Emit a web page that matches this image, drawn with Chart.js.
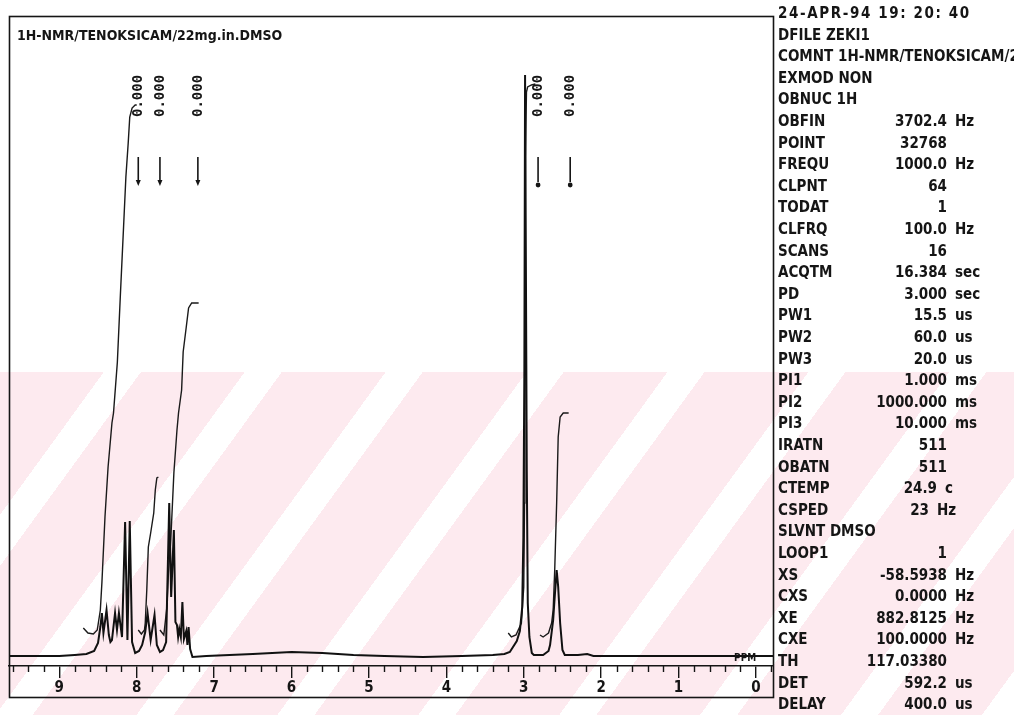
<!DOCTYPE html>
<html><head><meta charset="utf-8">
<script src="https://cdn.jsdelivr.net/npm/chart.js@4/dist/chart.umd.min.js"></script>
<style>
html,body{margin:0;padding:0;background:#fff;width:1014px;height:715px;overflow:hidden;position:relative;}
#wm{position:absolute;left:0;top:372px;width:1014px;height:343px;background:repeating-linear-gradient(126deg,#fdeaef 0px,#fdeaef 84px,#ffffff 84px,#ffffff 114px);}
#c{position:absolute;left:0;top:0;}
.t{position:absolute;font-family:'DejaVu Sans Condensed','DejaVu Sans',sans-serif;font-weight:bold;font-size:15px;color:#151515;white-space:nowrap;line-height:16px;}
</style></head><body>
<div id="wm"></div>
<canvas id="c" width="1014" height="715"></canvas>
<div id="panel"></div>
<script>
// ---- spectrum (chemical shift in ppm, intensity above baseline) ----
const spectrumPpm = [9.65, 9.30, 9.00, 8.80, 8.65, 8.55, 8.50, 8.47, 8.45, 8.43,
  8.39, 8.36, 8.34, 8.32, 8.28, 8.255, 8.23, 8.19, 8.15, 8.12,
  8.09, 8.06, 8.02, 7.97, 7.93, 7.89, 7.86, 7.82, 7.77, 7.74,
  7.70, 7.66, 7.62, 7.58, 7.555, 7.52, 7.50, 7.48, 7.465, 7.45,
  7.43, 7.41, 7.39, 7.36, 7.345, 7.33, 7.31, 7.28, 7.10, 6.80,
  6.50, 6.00, 5.60, 5.20, 4.80, 4.30, 3.80, 3.40, 3.25, 3.18,
  3.09, 3.05, 3.02, 3.005, 2.992, 2.983, 2.961, 2.948, 2.927, 2.896,
  2.87, 2.75, 2.68, 2.66, 2.62, 2.60, 2.575, 2.555, 2.53, 2.50,
  2.47, 2.30, 2.18, 2.10, 1.50, 0.50, 0.00, -0.22];
const spectrumH = [1, 1, 1, 2, 3, 6, 14, 30, 44, 24,
  47, 22, 15, 17, 44, 27, 44, 20, 135, 17,
  136, 15, 4, 6, 12, 25, 44, 17, 42, 12,
  5, 7, 15, 154, 60, 127, 35, 32, 20, 28,
  20, 55, 18, 26, 12, 30, 8, 0, 1, 2,
  3, 5, 4, 2, 1, 0, 1, 2, 3, 5,
  16, 26, 50, 120, 287, 582, 187, 54, 20, 4,
  2, 2, 6, 12, 37, 60, 87, 70, 34, 7,
  2, 2, 3, 1, 1, 1, 1, 1];

// ---- integral curves ----
const int1Ppm = [8.69, 8.63, 8.56, 8.51, 8.47, 8.45, 8.41, 8.37, 8.32, 8.30, 8.25, 8.21, 8.17, 8.14, 8.11, 8.09, 8.06, 8.02, 8.00];
const int1H   = [29, 24, 23, 27, 47, 74, 140, 190, 234, 244, 295, 364, 430, 480, 514, 540, 549, 552, 552];
const int2Ppm = [7.98, 7.94, 7.90, 7.89, 7.87, 7.85, 7.82, 7.78, 7.76, 7.74, 7.72];
const int2H   = [27, 23, 27, 34, 67, 110, 124, 144, 167, 179, 180];
const int3Ppm = [7.70, 7.65, 7.61, 7.59, 7.56, 7.52, 7.48, 7.46, 7.42, 7.40, 7.36, 7.33, 7.29, 7.20];
const int3H   = [27, 22, 50, 84, 117, 184, 227, 244, 267, 305, 330, 349, 354, 354];
const int4Ppm = [3.20, 3.16, 3.10, 3.03, 3.00, 2.99, 2.985, 2.978, 2.965, 2.95, 2.90, 2.85];
const int4H   = [24, 20, 22, 34, 70, 154, 287, 500, 565, 570, 572, 573];
const int5Ppm = [2.79, 2.75, 2.68, 2.64, 2.62, 2.60, 2.575, 2.555, 2.53, 2.49, 2.42];
const int5H   = [22, 20, 24, 34, 47, 87, 154, 220, 240, 244, 244];

// ---- integral value labels & markers ----
const intLabelPpm  = [7.98, 7.70, 7.21, 2.815, 2.40];
const intLabelText = ['0.000', '0.000', '0.000', '0.000', '0.000'];
const intMarkerDot = [false, false, false, true, true];

// ---- axis ticks ----
const tickValues = [0, 1, 2, 3, 4, 5, 6, 7, 8, 9];
const tickLabels = ['0', '1', '2', '3', '4', '5', '6', '7', '8', '9'];
const axisMin = -0.22, axisMax = 9.65, minorStep = 0.2;

// ---- acquisition parameters panel ----
const panelLabels = ['24-APR-94 19: 20: 40', 'DFILE ZEKI1', 'COMNT 1H-NMR/TENOKSICAM/22mg.in.DMSO', 'EXMOD NON', 'OBNUC 1H',
  'OBFIN', 'POINT', 'FREQU', 'CLPNT', 'TODAT', 'CLFRQ', 'SCANS', 'ACQTM', 'PD', 'PW1', 'PW2', 'PW3',
  'PI1', 'PI2', 'PI3', 'IRATN', 'OBATN', 'CTEMP', 'CSPED', 'SLVNT DMSO', 'LOOP1',
  'XS', 'CXS', 'XE', 'CXE', 'TH', 'DET', 'DELAY'];
const panelValues = ['', '', '', '', '',
  '3702.4', '32768', '1000.0', '64', '1', '100.0', '16', '16.384', '3.000', '15.5', '60.0', '20.0',
  '1.000', '1000.000', '10.000', '511', '511', '24.9', '23', '', '1',
  '-58.5938', '0.0000', '882.8125', '100.0000', '117.03380', '592.2', '400.0'];
const panelUnits = ['', '', '', '', '',
  'Hz', '', 'Hz', '', '', 'Hz', '', 'sec', 'sec', 'us', 'us', 'us',
  'ms', 'ms', 'ms', '', '', 'c', 'Hz', '', '',
  'Hz', 'Hz', 'Hz', 'Hz', '', 'us', 'us'];
const panelShift = [0,0,0,0,0, 0,0,0,0,0,0,0,0,0,0,0,0, 0,0,0,0,0,-10,-18,0,0, 0,0,0,0,0,0,0];

const title = '1H-NMR/TENOKSICAM/22mg.in.DMSO';

// build panel text
const panel = document.getElementById('panel');
function addText(txt, style) {
  const d = document.createElement('div');
  d.className = 't';
  d.textContent = txt;
  Object.assign(d.style, style);
  panel.appendChild(d);
}
panelLabels.forEach((lab, i) => {
  const top = (13 + 21.6 * i - 8) + 'px';
  const st = {left: '778px', top};
  if (i === 0) st.letterSpacing = '1.6px';
  addText(lab, st);
  if (panelValues[i]) addText(panelValues[i], {right: (1014 - 947 - panelShift[i]) + 'px', top, textAlign: 'right'});
  if (panelUnits[i]) addText(panelUnits[i], {left: (955 + panelShift[i]) + 'px', top});
});
addText(title, {left: '17px', top: '27px', fontSize: '14px'});

const pts = (xs, ys) => xs.map((v, i) => ({x: v, y: ys[i]}));
const isMajor = v => Math.abs(v - Math.round(v)) < 1e-6;

const annot = {
  id: 'annot',
  afterDraw(chart) {
    const {ctx, chartArea: a, scales: {x, y}} = chart;
    ctx.save();
    ctx.strokeStyle = '#151515';
    ctx.fillStyle = '#151515';
    // minor ticks
    ctx.lineWidth = 1.4;
    x.ticks.forEach(t => {
      if (!isMajor(t.value)) {
        const px = Math.round(x.getPixelForValue(t.value)) + 0.5;
        ctx.beginPath(); ctx.moveTo(px, a.bottom); ctx.lineTo(px, a.bottom + 6); ctx.stroke();
      }
    });
    // frame
    ctx.lineWidth = 1.6;
    ctx.strokeRect(a.left + 0.5, a.top + 0.5, a.right - a.left, x.bottom - a.top);
    // integral labels and markers
    intLabelPpm.forEach((p, i) => {
      const px = x.getPixelForValue(p);
      ctx.save();
      ctx.translate(px, y.getPixelForValue(540));
      ctx.rotate(-Math.PI / 2);
      ctx.font = "bold 14px 'DejaVu Sans Mono', monospace";
      ctx.textAlign = 'left';
      ctx.textBaseline = 'middle';
      ctx.fillText(intLabelText[i], 0, 0);
      ctx.restore();
      const y1 = y.getPixelForValue(500), y2 = y.getPixelForValue(472);
      ctx.lineWidth = 1.6;
      ctx.beginPath(); ctx.moveTo(px, y1); ctx.lineTo(px, y2 - 3); ctx.stroke();
      if (intMarkerDot[i]) {
        ctx.beginPath(); ctx.arc(px, y2, 2.4, 0, Math.PI * 2); ctx.fill();
      } else {
        ctx.beginPath(); ctx.moveTo(px - 2.5, y2 - 5); ctx.lineTo(px + 2.5, y2 - 5); ctx.lineTo(px, y2 + 1); ctx.closePath(); ctx.fill();
      }
    });
    // PPM unit label
    ctx.font = "bold 10px 'DejaVu Sans Condensed', sans-serif";
    ctx.textAlign = 'center';
    ctx.textBaseline = 'middle';
    ctx.fillText('PPM', x.getPixelForValue(0.14), y.getPixelForValue(-1));
    ctx.restore();
  }
};

const intStyle = {borderColor: '#1a1a1a', borderWidth: 1.4, pointRadius: 0, tension: 0, fill: false};

new Chart(document.getElementById('c'), {
  type: 'line',
  data: {
    datasets: [
      {label: 'spectrum', data: pts(spectrumPpm, spectrumH), borderColor: '#111', borderWidth: 2, pointRadius: 0, tension: 0, fill: false},
      Object.assign({label: 'int1', data: pts(int1Ppm, int1H)}, intStyle),
      Object.assign({label: 'int2', data: pts(int2Ppm, int2H)}, intStyle),
      Object.assign({label: 'int3', data: pts(int3Ppm, int3H)}, intStyle),
      Object.assign({label: 'int4', data: pts(int4Ppm, int4H)}, intStyle),
      Object.assign({label: 'int5', data: pts(int5Ppm, int5H)}, intStyle)
    ]
  },
  options: {
    responsive: false,
    animation: false,
    devicePixelRatio: 1,
    events: [],
    layout: {padding: {left: 9, right: 241, top: 16, bottom: 18}},
    plugins: {legend: {display: false}, tooltip: {enabled: false}, title: {display: false}},
    scales: {
      x: {
        type: 'linear',
        reverse: true,
        min: axisMin,
        max: axisMax,
        afterBuildTicks: scale => {
          const t = [];
          for (let k = Math.ceil(axisMin / minorStep); k * minorStep <= axisMax; k++) t.push({value: +(k * minorStep).toFixed(4)});
          scale.ticks = t;
        },
        afterFit: scale => { scale.height = 31; },
        border: {display: true, color: '#151515', width: 1.6},
        grid: {
          display: true, drawOnChartArea: false, drawTicks: true, tickLength: 12, lineWidth: 1.4,
          tickColor: c => (c.tick && isMajor(c.tick.value)) ? '#151515' : 'rgba(0,0,0,0)'
        },
        ticks: {
          autoSkip: false, maxRotation: 0, padding: 1, color: '#151515',
          font: {family: "'DejaVu Sans Condensed','DejaVu Sans',sans-serif", size: 15, weight: 'bold'},
          callback: v => {
            if (!isMajor(v)) return '';
            const i = tickValues.indexOf(Math.round(v));
            return i >= 0 ? tickLabels[i] : '';
          }
        }
      },
      y: {type: 'linear', display: false, min: -9, max: 641}
    }
  },
  plugins: [annot]
});
</script>
</body></html>
